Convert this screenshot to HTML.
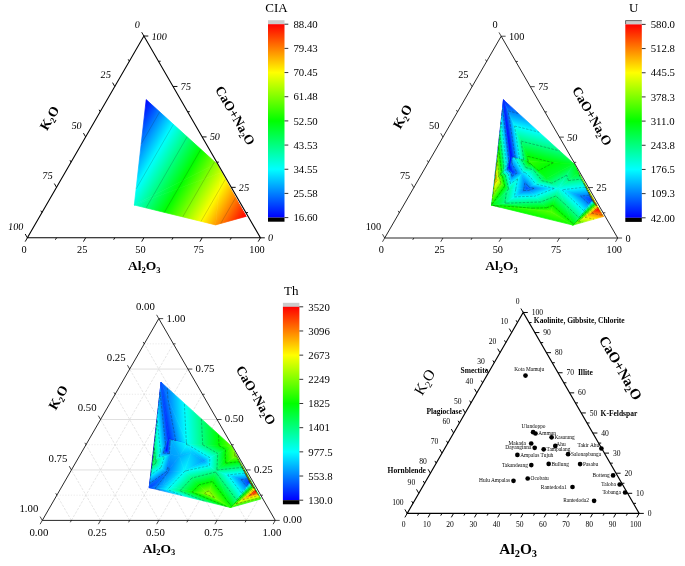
<!DOCTYPE html><html><head><meta charset="utf-8"><style>html,body{margin:0;padding:0;background:#fff}svg{display:block;will-change:transform}</style></head><body>
<svg width="685" height="566" viewBox="0 0 685 566">
<rect width="685" height="566" fill="#fff"/>
<defs><linearGradient id="rb"><stop offset="0" stop-color="rgb(0,0,255)"/><stop offset="0.25" stop-color="rgb(0,255,255)"/><stop offset="0.5" stop-color="rgb(0,255,0)"/><stop offset="0.75" stop-color="rgb(255,255,0)"/><stop offset="1" stop-color="rgb(255,0,0)"/></linearGradient><linearGradient id="cbv" x1="0" y1="1" x2="0" y2="0" href="#rb"/></defs>
<g>
<defs><linearGradient id="g1" gradientUnits="userSpaceOnUse" x1="145.95" y1="99.46" x2="271.42" y2="171.90" href="#rb"/><linearGradient id="g2" gradientUnits="userSpaceOnUse" x1="132.90" y1="122.05" x2="258.37" y2="194.49" href="#rb"/><linearGradient id="g3" gradientUnits="userSpaceOnUse" x1="109.04" y1="163.38" x2="234.51" y2="235.82" href="#rb"/><linearGradient id="g4" gradientUnits="userSpaceOnUse" x1="135.84" y1="116.97" x2="261.31" y2="189.41" href="#rb"/><linearGradient id="g5" gradientUnits="userSpaceOnUse" x1="132.90" y1="122.05" x2="258.37" y2="194.49" href="#rb"/></defs>
<polygon points="146.20,99.60 216.60,163.60 134.30,205.00" fill="url(#g1)" stroke="url(#g1)" stroke-width="0.7" stroke-linejoin="round"/><polygon points="220.80,172.80 216.60,163.60 246.00,216.40" fill="url(#g2)" stroke="url(#g2)" stroke-width="0.7" stroke-linejoin="round"/><polygon points="215.60,224.90 220.80,172.80 246.00,216.40" fill="url(#g3)" stroke="url(#g3)" stroke-width="0.7" stroke-linejoin="round"/><polygon points="216.60,163.60 220.80,172.80 134.30,205.00" fill="url(#g4)" stroke="url(#g4)" stroke-width="0.7" stroke-linejoin="round"/><polygon points="220.80,172.80 215.60,224.90 134.30,205.00" fill="url(#g5)" stroke="url(#g5)" stroke-width="0.7" stroke-linejoin="round"/>
<path d="M159.70 111.87L141.20 143.91M173.41 124.34L136.11 188.93M187.12 136.80L153.26 195.46M200.84 149.27L182.73 180.64M214.55 161.74L212.20 165.81M225.33 179.28L224.94 179.96M235.60 197.72L235.40 198.06M219.07 190.13L224.94 179.96M235.40 198.06L220.74 223.46M151.43 198.62L153.26 195.46M178.07 188.71L182.73 180.64M204.71 178.79L212.20 165.81M146.08 207.88L151.43 198.62M164.41 212.37L178.07 188.71M182.73 216.85L204.71 178.79M219.07 190.13L201.05 221.34" fill="none" stroke="#1a1a1a" stroke-opacity="0.55" stroke-width="0.35"/>
<path d="M27.40 237.80L143.90 36.02L260.40 237.80Z" fill="none" stroke="#000" stroke-width="1.10" stroke-linejoin="miter"/><path d="M143.90 36.02l-2.20 -3.81M260.40 237.80l4.40 0M27.40 237.80l-2.20 3.81M129.34 61.24l-1.10 -1.91M245.84 212.58l2.20 0M56.52 237.80l-1.10 1.91M114.78 86.46l-2.20 -3.81M231.27 187.35l4.40 0M85.65 237.80l-2.20 3.81M100.21 111.69l-1.10 -1.91M216.71 162.13l2.20 0M114.78 237.80l-1.10 1.91M85.65 136.91l-2.20 -3.81M202.15 136.91l4.40 0M143.90 237.80l-2.20 3.81M71.09 162.13l-1.10 -1.91M187.59 111.69l2.20 0M173.03 237.80l-1.10 1.91M56.53 187.35l-2.20 -3.81M173.03 86.46l4.40 0M202.15 237.80l-2.20 3.81M41.96 212.58l-1.10 -1.91M158.46 61.24l2.20 0M231.28 237.80l-1.10 1.91M27.40 237.80l-2.20 -3.81M143.90 36.02l4.40 0M260.40 237.80l-2.20 3.81" fill="none" stroke="#000" stroke-width="0.94"/>
<text x="139.70" y="27.82" font-family="Liberation Serif, serif" font-size="10.3" text-anchor="end" transform="translate(143.90 28.02) skewX(-6) translate(-143.90 -28.02)">0</text>
<text x="268.10" y="241.30" font-family="Liberation Serif, serif" font-size="10.3" text-anchor="start" transform="translate(260.40 237.80) skewX(-6) translate(-260.40 -237.80)">0</text>
<text x="24.00" y="252.90" font-family="Liberation Serif, serif" font-size="10.3" text-anchor="middle">0</text>
<text x="110.58" y="78.26" font-family="Liberation Serif, serif" font-size="10.3" text-anchor="end" transform="translate(114.78 78.46) skewX(-6) translate(-114.78 -78.46)">25</text>
<text x="238.97" y="190.85" font-family="Liberation Serif, serif" font-size="10.3" text-anchor="start" transform="translate(231.27 187.35) skewX(-6) translate(-231.27 -187.35)">25</text>
<text x="82.25" y="252.90" font-family="Liberation Serif, serif" font-size="10.3" text-anchor="middle">25</text>
<text x="81.45" y="128.71" font-family="Liberation Serif, serif" font-size="10.3" text-anchor="end" transform="translate(85.65 128.91) skewX(-6) translate(-85.65 -128.91)">50</text>
<text x="209.85" y="140.41" font-family="Liberation Serif, serif" font-size="10.3" text-anchor="start" transform="translate(202.15 136.91) skewX(-6) translate(-202.15 -136.91)">50</text>
<text x="140.50" y="252.90" font-family="Liberation Serif, serif" font-size="10.3" text-anchor="middle">50</text>
<text x="52.33" y="179.15" font-family="Liberation Serif, serif" font-size="10.3" text-anchor="end" transform="translate(56.53 179.35) skewX(-6) translate(-56.53 -179.35)">75</text>
<text x="180.72" y="89.96" font-family="Liberation Serif, serif" font-size="10.3" text-anchor="start" transform="translate(173.03 86.46) skewX(-6) translate(-173.03 -86.46)">75</text>
<text x="198.75" y="252.90" font-family="Liberation Serif, serif" font-size="10.3" text-anchor="middle">75</text>
<text x="23.20" y="229.60" font-family="Liberation Serif, serif" font-size="10.3" text-anchor="end" transform="translate(27.40 229.80) skewX(-6) translate(-27.40 -229.80)">100</text>
<text x="151.60" y="39.52" font-family="Liberation Serif, serif" font-size="10.3" text-anchor="start" transform="translate(143.90 36.02) skewX(-6) translate(-143.90 -36.02)">100</text>
<text x="257.00" y="252.90" font-family="Liberation Serif, serif" font-size="10.3" text-anchor="middle">100</text>
<text x="49.50" y="122.60" font-family="Liberation Serif, serif" font-size="13.5" font-weight="bold" text-anchor="middle" transform="rotate(-60 49.50 118.20)">K<tspan dy="2.6" font-size="8.5">2</tspan><tspan dy="-2.6" font-size="0.1"> </tspan>O</text>
<text x="235.10" y="120.10" font-family="Liberation Serif, serif" font-size="13.5" font-weight="bold" text-anchor="middle" transform="rotate(60 235.10 115.70)">CaO+Na<tspan dy="2.6" font-size="8.5">2</tspan><tspan dy="-2.6" font-size="0.1"> </tspan>O</text>
<text x="144.20" y="270.00" font-family="Liberation Serif, serif" font-size="13.5" font-weight="bold" text-anchor="middle">Al<tspan dy="2.6" font-size="8.5">2</tspan><tspan dy="-2.6" font-size="0.1"> </tspan>O<tspan dy="2.6" font-size="8.5">3</tspan><tspan dy="-2.6" font-size="0.1"> </tspan></text>
<rect x="268.00" y="20.20" width="16.50" height="4.20" fill="#cbcbcb"/>
<rect x="268.00" y="24.20" width="16.50" height="193.40" fill="url(#cbv)"/>
<rect x="268.00" y="217.60" width="16.50" height="4.10" fill="#000"/>
<text x="293.40" y="27.90" font-family="Liberation Serif, serif" font-size="10.8">88.40</text>
<text x="293.40" y="52.08" font-family="Liberation Serif, serif" font-size="10.8">79.43</text>
<text x="293.40" y="76.25" font-family="Liberation Serif, serif" font-size="10.8">70.45</text>
<text x="293.40" y="100.43" font-family="Liberation Serif, serif" font-size="10.8">61.48</text>
<text x="293.40" y="124.60" font-family="Liberation Serif, serif" font-size="10.8">52.50</text>
<text x="293.40" y="148.77" font-family="Liberation Serif, serif" font-size="10.8">43.53</text>
<text x="293.40" y="172.95" font-family="Liberation Serif, serif" font-size="10.8">34.55</text>
<text x="293.40" y="197.12" font-family="Liberation Serif, serif" font-size="10.8">25.58</text>
<text x="293.40" y="221.30" font-family="Liberation Serif, serif" font-size="10.8">16.60</text>
<path d="M284.50 24.20h3.8M284.50 48.38h3.8M284.50 72.55h3.8M284.50 96.73h3.8M284.50 120.90h3.8M284.50 145.07h3.8M284.50 169.25h3.8M284.50 193.42h3.8M284.50 217.60h3.8" stroke="#000" stroke-width="0.8" fill="none"/>
<text x="276.45" y="12.10" font-family="Liberation Serif, serif" font-size="13" text-anchor="middle">CIA</text>
</g>
<g>
<defs><linearGradient id="g6" gradientUnits="userSpaceOnUse" x1="503.43" y1="99.79" x2="505.45" y2="100.04" href="#rb"/><linearGradient id="g7" gradientUnits="userSpaceOnUse" x1="511.23" y1="156.38" x2="488.42" y2="159.19" href="#rb"/><linearGradient id="g8" gradientUnits="userSpaceOnUse" x1="599.24" y1="292.17" x2="471.55" y2="52.42" href="#rb"/><linearGradient id="g9" gradientUnits="userSpaceOnUse" x1="512.10" y1="164.25" x2="544.42" y2="159.38" href="#rb"/><linearGradient id="g10" gradientUnits="userSpaceOnUse" x1="585.76" y1="117.08" x2="560.03" y2="218.43" href="#rb"/><linearGradient id="g11" gradientUnits="userSpaceOnUse" x1="506.36" y1="193.62" x2="504.57" y2="218.84" href="#rb"/><linearGradient id="g12" gradientUnits="userSpaceOnUse" x1="505.05" y1="185.27" x2="506.81" y2="233.18" href="#rb"/><linearGradient id="g13" gradientUnits="userSpaceOnUse" x1="528.56" y1="207.01" x2="466.44" y2="195.84" href="#rb"/><linearGradient id="g14" gradientUnits="userSpaceOnUse" x1="520.55" y1="196.56" x2="489.30" y2="174.99" href="#rb"/><linearGradient id="g15" gradientUnits="userSpaceOnUse" x1="545.88" y1="193.94" x2="441.20" y2="181.24" href="#rb"/><linearGradient id="g16" gradientUnits="userSpaceOnUse" x1="533.58" y1="274.60" x2="563.01" y2="166.14" href="#rb"/><linearGradient id="g17" gradientUnits="userSpaceOnUse" x1="571.91" y1="175.73" x2="585.07" y2="169.93" href="#rb"/><linearGradient id="g18" gradientUnits="userSpaceOnUse" x1="523.22" y1="191.03" x2="568.00" y2="156.91" href="#rb"/><linearGradient id="g19" gradientUnits="userSpaceOnUse" x1="527.83" y1="176.65" x2="542.97" y2="159.13" href="#rb"/><linearGradient id="g20" gradientUnits="userSpaceOnUse" x1="600.83" y1="207.33" x2="598.10" y2="209.00" href="#rb"/><linearGradient id="g21" gradientUnits="userSpaceOnUse" x1="577.43" y1="173.36" x2="578.86" y2="172.60" href="#rb"/><linearGradient id="g22" gradientUnits="userSpaceOnUse" x1="568.45" y1="246.91" x2="577.07" y2="204.70" href="#rb"/><linearGradient id="g23" gradientUnits="userSpaceOnUse" x1="589.94" y1="200.43" x2="598.10" y2="209.00" href="#rb"/><linearGradient id="g24" gradientUnits="userSpaceOnUse" x1="560.41" y1="206.90" x2="552.73" y2="140.02" href="#rb"/><linearGradient id="g25" gradientUnits="userSpaceOnUse" x1="571.60" y1="173.69" x2="523.26" y2="227.54" href="#rb"/><linearGradient id="g26" gradientUnits="userSpaceOnUse" x1="596.94" y1="200.21" x2="550.42" y2="248.38" href="#rb"/><linearGradient id="g27" gradientUnits="userSpaceOnUse" x1="555.90" y1="198.41" x2="564.63" y2="162.39" href="#rb"/><linearGradient id="g28" gradientUnits="userSpaceOnUse" x1="525.01" y1="183.80" x2="547.37" y2="240.07" href="#rb"/><linearGradient id="g29" gradientUnits="userSpaceOnUse" x1="590.77" y1="195.47" x2="554.18" y2="126.77" href="#rb"/><linearGradient id="g30" gradientUnits="userSpaceOnUse" x1="523.97" y1="190.74" x2="639.08" y2="153.01" href="#rb"/><linearGradient id="g31" gradientUnits="userSpaceOnUse" x1="530.94" y1="193.54" x2="469.00" y2="181.98" href="#rb"/><linearGradient id="g32" gradientUnits="userSpaceOnUse" x1="513.42" y1="182.75" x2="555.15" y2="137.16" href="#rb"/><linearGradient id="g33" gradientUnits="userSpaceOnUse" x1="528.97" y1="184.31" x2="541.01" y2="145.98" href="#rb"/><linearGradient id="g34" gradientUnits="userSpaceOnUse" x1="530.06" y1="158.95" x2="529.40" y2="163.82" href="#rb"/><linearGradient id="g35" gradientUnits="userSpaceOnUse" x1="515.31" y1="177.30" x2="547.66" y2="158.88" href="#rb"/><linearGradient id="g36" gradientUnits="userSpaceOnUse" x1="513.94" y1="171.81" x2="490.06" y2="177.43" href="#rb"/><linearGradient id="g37" gradientUnits="userSpaceOnUse" x1="511.48" y1="170.27" x2="534.96" y2="205.50" href="#rb"/><linearGradient id="g38" gradientUnits="userSpaceOnUse" x1="510.55" y1="173.35" x2="551.79" y2="149.27" href="#rb"/><linearGradient id="g39" gradientUnits="userSpaceOnUse" x1="509.28" y1="167.81" x2="494.79" y2="165.40" href="#rb"/><linearGradient id="g40" gradientUnits="userSpaceOnUse" x1="509.28" y1="167.71" x2="495.05" y2="184.54" href="#rb"/><linearGradient id="g41" gradientUnits="userSpaceOnUse" x1="510.87" y1="157.35" x2="523.31" y2="159.42" href="#rb"/><linearGradient id="g42" gradientUnits="userSpaceOnUse" x1="510.94" y1="172.79" x2="544.70" y2="159.53" href="#rb"/></defs>
<polygon points="503.50,99.80 495.40,179.20 491.60,205.20" fill="url(#g6)" stroke="url(#g6)" stroke-width="0.7" stroke-linejoin="round"/><polygon points="511.10,156.40 495.40,179.20 503.50,99.80" fill="url(#g7)" stroke="url(#g7)" stroke-width="0.7" stroke-linejoin="round"/><polygon points="529.70,161.60 573.90,163.80 546.30,178.50" fill="url(#g8)" stroke="url(#g8)" stroke-width="0.7" stroke-linejoin="round"/><polygon points="529.70,161.60 511.10,156.40 503.50,99.80" fill="url(#g9)" stroke="url(#g9)" stroke-width="0.7" stroke-linejoin="round"/><polygon points="573.90,163.80 529.70,161.60 503.50,99.80" fill="url(#g10)" stroke="url(#g10)" stroke-width="0.7" stroke-linejoin="round"/><polygon points="505.70,202.90 550.70,211.50 491.60,205.20" fill="url(#g11)" stroke="url(#g11)" stroke-width="0.7" stroke-linejoin="round"/><polygon points="505.70,202.90 526.80,188.30 550.70,211.50" fill="url(#g12)" stroke="url(#g12)" stroke-width="0.7" stroke-linejoin="round"/><polygon points="505.70,202.90 509.30,189.50 526.80,188.30" fill="url(#g13)" stroke="url(#g13)" stroke-width="0.7" stroke-linejoin="round"/><polygon points="495.40,179.20 509.30,189.50 491.60,205.20" fill="url(#g14)" stroke="url(#g14)" stroke-width="0.7" stroke-linejoin="round"/><polygon points="509.30,189.50 505.70,202.90 491.60,205.20" fill="url(#g15)" stroke="url(#g15)" stroke-width="0.7" stroke-linejoin="round"/><polygon points="550.70,211.50 572.90,225.10 491.60,205.20" fill="url(#g16)" stroke="url(#g16)" stroke-width="0.7" stroke-linejoin="round"/><polygon points="578.10,173.00 573.90,163.80 603.30,216.60" fill="url(#g17)" stroke="url(#g17)" stroke-width="0.7" stroke-linejoin="round"/><polygon points="526.80,188.30 533.40,170.20 546.30,178.50" fill="url(#g18)" stroke="url(#g18)" stroke-width="0.7" stroke-linejoin="round"/><polygon points="533.40,170.20 529.70,161.60 546.30,178.50" fill="url(#g19)" stroke="url(#g19)" stroke-width="0.7" stroke-linejoin="round"/><polygon points="598.10,209.00 578.10,173.00 603.30,216.60" fill="url(#g20)" stroke="url(#g20)" stroke-width="0.7" stroke-linejoin="round"/><polygon points="578.10,173.00 598.10,209.00 591.50,199.80" fill="url(#g21)" stroke="url(#g21)" stroke-width="0.7" stroke-linejoin="round"/><polygon points="572.90,225.10 598.10,209.00 603.30,216.60" fill="url(#g22)" stroke="url(#g22)" stroke-width="0.7" stroke-linejoin="round"/><polygon points="598.10,209.00 572.90,225.10 591.50,199.80" fill="url(#g23)" stroke="url(#g23)" stroke-width="0.7" stroke-linejoin="round"/><polygon points="558.30,188.50 578.10,173.00 591.50,199.80" fill="url(#g24)" stroke="url(#g24)" stroke-width="0.7" stroke-linejoin="round"/><polygon points="558.30,188.50 572.90,225.10 550.70,211.50" fill="url(#g25)" stroke="url(#g25)" stroke-width="0.7" stroke-linejoin="round"/><polygon points="572.90,225.10 558.30,188.50 591.50,199.80" fill="url(#g26)" stroke="url(#g26)" stroke-width="0.7" stroke-linejoin="round"/><polygon points="558.30,188.50 526.80,188.30 546.30,178.50" fill="url(#g27)" stroke="url(#g27)" stroke-width="0.7" stroke-linejoin="round"/><polygon points="526.80,188.30 558.30,188.50 550.70,211.50" fill="url(#g28)" stroke="url(#g28)" stroke-width="0.7" stroke-linejoin="round"/><polygon points="573.90,163.80 558.30,188.50 546.30,178.50" fill="url(#g29)" stroke="url(#g29)" stroke-width="0.7" stroke-linejoin="round"/><polygon points="578.10,173.00 558.30,188.50 573.90,163.80" fill="url(#g30)" stroke="url(#g30)" stroke-width="0.7" stroke-linejoin="round"/><polygon points="509.30,189.50 521.80,173.60 526.80,188.30" fill="url(#g31)" stroke="url(#g31)" stroke-width="0.7" stroke-linejoin="round"/><polygon points="521.80,173.60 533.40,170.20 526.80,188.30" fill="url(#g32)" stroke="url(#g32)" stroke-width="0.7" stroke-linejoin="round"/><polygon points="533.40,170.20 521.80,173.60 529.70,161.60" fill="url(#g33)" stroke="url(#g33)" stroke-width="0.7" stroke-linejoin="round"/><polygon points="529.70,161.60 513.60,157.80 511.10,156.40" fill="url(#g34)" stroke="url(#g34)" stroke-width="0.7" stroke-linejoin="round"/><polygon points="521.80,173.60 513.60,157.80 529.70,161.60" fill="url(#g35)" stroke="url(#g35)" stroke-width="0.7" stroke-linejoin="round"/><polygon points="512.70,172.10 509.30,189.50 495.40,179.20" fill="url(#g36)" stroke="url(#g36)" stroke-width="0.7" stroke-linejoin="round"/><polygon points="512.70,172.10 521.80,173.60 509.30,189.50" fill="url(#g37)" stroke="url(#g37)" stroke-width="0.7" stroke-linejoin="round"/><polygon points="512.70,172.10 513.60,157.80 521.80,173.60" fill="url(#g38)" stroke="url(#g38)" stroke-width="0.7" stroke-linejoin="round"/><polygon points="509.20,167.80 495.40,179.20 511.10,156.40" fill="url(#g39)" stroke="url(#g39)" stroke-width="0.7" stroke-linejoin="round"/><polygon points="509.20,167.80 512.70,172.10 495.40,179.20" fill="url(#g40)" stroke="url(#g40)" stroke-width="0.7" stroke-linejoin="round"/><polygon points="513.60,157.80 509.20,167.80 511.10,156.40" fill="url(#g41)" stroke="url(#g41)" stroke-width="0.7" stroke-linejoin="round"/><polygon points="512.70,172.10 509.20,167.80 513.60,157.80" fill="url(#g42)" stroke="url(#g42)" stroke-width="0.7" stroke-linejoin="round"/>
<path d="M502.54 109.22L501.16 120.56M501.23 122.09L497.95 148.92M499.91 134.96L494.75 177.27M498.60 147.82L491.62 205.04M497.29 160.69L493.17 194.45M495.98 173.56L494.72 183.85M508.75 159.81L502.54 109.22M506.30 163.37L501.23 122.09M503.84 166.94L499.91 134.96M501.39 170.50L498.60 147.82M498.93 174.07L497.29 160.69M496.48 177.64L495.98 173.56M553.27 162.77L538.55 170.61M515.22 157.55L508.19 110.87M519.53 158.76L514.60 125.98M523.85 159.96L521.01 141.09M528.16 161.17L527.41 156.21M508.19 110.87L518.57 113.50M514.60 125.98L539.16 132.22M521.01 141.09L559.74 150.93M553.27 162.77L527.41 156.21M507.17 203.18L504.94 203.02M533.48 208.21L492.91 205.34M523.50 190.58L528.95 190.38M514.34 196.92L534.90 196.16M540.85 201.94L507.17 203.18M546.81 207.72L533.48 208.21M523.87 188.50L523.50 190.58M515.76 189.06L514.34 196.92M508.52 188.92L506.26 192.20M504.70 186.09L491.62 205.04M500.89 183.27L493.17 194.45M497.07 180.44L494.72 183.85M504.94 203.02L506.26 192.20M499.73 207.19L492.91 205.34M576.84 169.08L580.07 176.40M586.25 185.99L588.33 190.71M595.67 202.90L596.60 205.01M527.83 185.47L529.11 187.14M530.70 177.62L535.50 183.93M534.37 170.82L541.90 180.71M533.25 169.86L534.37 170.82M530.63 163.77L538.55 170.61M579.22 175.02L580.07 176.40M583.94 183.52L588.33 190.71M588.66 192.01L596.60 205.01M593.38 200.51L602.47 215.39M592.01 200.51L589.16 195.12M592.88 201.72L585.16 187.11M593.75 202.93L581.15 179.10M579.22 175.02L594.62 204.15M583.94 183.52L595.49 205.36M588.66 192.01L596.36 206.57M593.38 200.51L597.23 207.79M578.55 221.49L582.74 222.35M585.06 217.33L594.10 219.17M591.58 213.16L602.47 215.39M588.58 203.77L592.01 200.51M583.58 210.58L592.88 201.72M578.57 217.38L593.75 202.93M573.57 224.19L594.62 204.15M578.55 221.49L595.49 205.36M585.06 217.33L596.36 206.57M591.58 213.16L597.23 207.79M589.16 195.12L580.64 196.10M585.16 187.11L562.03 189.77M568.44 180.57L581.15 179.10M564.34 203.63L555.82 195.99M571.89 222.57L552.73 205.37M580.64 196.10L588.58 203.77M562.03 189.77L583.58 210.58M564.34 203.63L578.57 217.38M571.89 222.57L573.57 224.19M534.07 188.35L529.11 187.14M554.25 188.47L535.50 183.93M541.90 180.71L551.85 183.12M534.07 188.35L528.95 190.38M554.25 188.47L534.90 196.16M555.82 195.99L540.85 201.94M552.73 205.37L546.81 207.72M566.68 175.22L551.85 183.12M568.44 180.57L566.68 175.22M524.93 182.82L523.87 188.50M517.66 178.87L515.76 189.06M527.83 185.47L524.93 182.82M525.22 172.60L530.70 177.62M525.22 172.60L522.93 171.88M525.80 167.52L533.25 169.86M528.68 163.16L530.63 163.77M512.50 157.18L515.22 157.55M515.12 158.16L519.53 158.76M521.31 159.62L523.85 159.96M527.49 161.08L528.16 161.17M515.12 158.16L522.93 171.88M521.31 159.62L525.80 167.52M527.49 161.08L528.68 163.16M511.87 176.37L511.02 172.79M510.44 183.68L508.15 173.97M508.52 188.92L505.28 175.15M504.70 186.09L502.41 176.32M500.89 183.27L499.53 177.50M497.07 180.44L496.66 178.68M517.16 172.84L511.87 176.37M517.66 178.87L510.44 183.68M513.09 165.86L517.16 172.84M507.14 169.50L508.75 159.81M504.98 171.29L506.30 163.37M502.82 173.07L503.84 166.94M500.66 174.85L501.39 170.50M498.50 176.63L498.93 174.07M496.35 178.42L496.48 177.64M511.02 172.79L507.14 169.50M508.15 173.97L504.98 171.29M505.28 175.15L502.82 173.07M502.41 176.32L500.66 174.85M499.53 177.50L498.50 176.63M496.66 178.68L496.35 178.42M511.66 162.21L512.50 157.18M511.66 162.21L513.09 165.86" fill="none" stroke="#1a1a1a" stroke-opacity="0.75" stroke-width="0.4" stroke-dasharray="2.6 1.3"/>
<path d="M384.70 238.00L501.20 36.22L617.70 238.00Z" fill="none" stroke="#000" stroke-width="0.85" stroke-linejoin="miter"/><path d="M501.20 36.22l-2.20 -3.81M617.70 238.00l4.40 0M384.70 238.00l-2.20 3.81M486.64 61.44l-1.10 -1.91M603.14 212.78l2.20 0M413.82 238.00l-1.10 1.91M472.07 86.66l-2.20 -3.81M588.58 187.55l4.40 0M442.95 238.00l-2.20 3.81M457.51 111.89l-1.10 -1.91M574.01 162.33l2.20 0M472.07 238.00l-1.10 1.91M442.95 137.11l-2.20 -3.81M559.45 137.11l4.40 0M501.20 238.00l-2.20 3.81M428.39 162.33l-1.10 -1.91M544.89 111.89l2.20 0M530.33 238.00l-1.10 1.91M413.82 187.55l-2.20 -3.81M530.33 86.66l4.40 0M559.45 238.00l-2.20 3.81M399.26 212.78l-1.10 -1.91M515.76 61.44l2.20 0M588.58 238.00l-1.10 1.91M384.70 238.00l-2.20 -3.81M501.20 36.22l4.40 0M617.70 238.00l-2.20 3.81" fill="none" stroke="#000" stroke-width="0.72"/>
<text x="497.60" y="28.02" font-family="Liberation Serif, serif" font-size="10.3" text-anchor="end" >0</text>
<text x="625.40" y="241.50" font-family="Liberation Serif, serif" font-size="10.3" text-anchor="start" >0</text>
<text x="381.30" y="253.10" font-family="Liberation Serif, serif" font-size="10.3" text-anchor="middle">0</text>
<text x="468.47" y="78.46" font-family="Liberation Serif, serif" font-size="10.3" text-anchor="end" >25</text>
<text x="596.28" y="191.05" font-family="Liberation Serif, serif" font-size="10.3" text-anchor="start" >25</text>
<text x="439.55" y="253.10" font-family="Liberation Serif, serif" font-size="10.3" text-anchor="middle">25</text>
<text x="439.35" y="128.91" font-family="Liberation Serif, serif" font-size="10.3" text-anchor="end" >50</text>
<text x="567.15" y="140.61" font-family="Liberation Serif, serif" font-size="10.3" text-anchor="start" transform="translate(559.45 137.11) skewX(-6) translate(-559.45 -137.11)">50</text>
<text x="497.80" y="253.10" font-family="Liberation Serif, serif" font-size="10.3" text-anchor="middle">50</text>
<text x="410.22" y="179.35" font-family="Liberation Serif, serif" font-size="10.3" text-anchor="end" >75</text>
<text x="538.03" y="90.16" font-family="Liberation Serif, serif" font-size="10.3" text-anchor="start" transform="translate(530.33 86.66) skewX(-6) translate(-530.33 -86.66)">75</text>
<text x="556.05" y="253.10" font-family="Liberation Serif, serif" font-size="10.3" text-anchor="middle">75</text>
<text x="381.10" y="229.80" font-family="Liberation Serif, serif" font-size="10.3" text-anchor="end" >100</text>
<text x="508.90" y="39.72" font-family="Liberation Serif, serif" font-size="10.3" text-anchor="start" >100</text>
<text x="614.30" y="253.10" font-family="Liberation Serif, serif" font-size="10.3" text-anchor="middle">100</text>
<text x="402.70" y="121.00" font-family="Liberation Serif, serif" font-size="13.5" font-weight="bold" text-anchor="middle" transform="rotate(-60 402.70 116.60)">K<tspan dy="2.6" font-size="8.5">2</tspan><tspan dy="-2.6" font-size="0.1"> </tspan>O</text>
<text x="592.00" y="120.50" font-family="Liberation Serif, serif" font-size="13.5" font-weight="bold" text-anchor="middle" transform="rotate(60 592.00 116.10)">CaO+Na<tspan dy="2.6" font-size="8.5">2</tspan><tspan dy="-2.6" font-size="0.1"> </tspan>O</text>
<text x="501.50" y="270.20" font-family="Liberation Serif, serif" font-size="13.5" font-weight="bold" text-anchor="middle">Al<tspan dy="2.6" font-size="8.5">2</tspan><tspan dy="-2.6" font-size="0.1"> </tspan>O<tspan dy="2.6" font-size="8.5">3</tspan><tspan dy="-2.6" font-size="0.1"> </tspan></text>
<rect x="625.30" y="20.40" width="16.50" height="4.20" fill="#cbcbcb"/>
<path d="M625.60 24.20v-3.6h16.20" fill="none" stroke="#333" stroke-width="0.7"/>
<rect x="625.30" y="24.40" width="16.50" height="193.40" fill="url(#cbv)"/>
<rect x="625.30" y="217.80" width="16.50" height="4.10" fill="#000"/>
<text x="650.70" y="28.10" font-family="Liberation Serif, serif" font-size="10.8">580.0</text>
<text x="650.70" y="52.27" font-family="Liberation Serif, serif" font-size="10.8">512.8</text>
<text x="650.70" y="76.45" font-family="Liberation Serif, serif" font-size="10.8">445.5</text>
<text x="650.70" y="100.62" font-family="Liberation Serif, serif" font-size="10.8">378.3</text>
<text x="650.70" y="124.80" font-family="Liberation Serif, serif" font-size="10.8">311.0</text>
<text x="650.70" y="148.97" font-family="Liberation Serif, serif" font-size="10.8">243.8</text>
<text x="650.70" y="173.15" font-family="Liberation Serif, serif" font-size="10.8">176.5</text>
<text x="650.70" y="197.32" font-family="Liberation Serif, serif" font-size="10.8">109.3</text>
<text x="650.70" y="221.50" font-family="Liberation Serif, serif" font-size="10.8">42.00</text>
<path d="M641.80 24.40h3.8M641.80 48.57h3.8M641.80 72.75h3.8M641.80 96.92h3.8M641.80 121.10h3.8M641.80 145.27h3.8M641.80 169.45h3.8M641.80 193.62h3.8M641.80 217.80h3.8" stroke="#000" stroke-width="0.8" fill="none"/>
<text x="633.75" y="12.30" font-family="Liberation Serif, serif" font-size="13" text-anchor="middle">U</text>
</g>
<g>
<path d="M71.42 469.95L246.18 469.95M100.55 419.51L217.05 419.51M129.68 369.06L187.93 369.06" fill="none" stroke="#d2d2d2" stroke-width="0.7"/>
<path d="M56.86 495.18L260.74 495.18M85.99 444.73L231.61 444.73M115.11 394.29L202.49 394.29M144.24 343.84L173.36 343.84" fill="none" stroke="#d8d8d8" stroke-width="0.55" stroke-dasharray="1.2 1.6"/>
<path d="M71.42 520.40L173.36 343.84M71.42 520.40L56.86 495.18M100.55 520.40L187.93 369.06M100.55 520.40L71.42 469.95M129.68 520.40L202.49 394.29M129.68 520.40L85.99 444.73M158.80 520.40L217.05 419.51M158.80 520.40L100.55 419.51M187.93 520.40L231.61 444.73M187.93 520.40L115.11 394.29M217.05 520.40L246.18 469.95M217.05 520.40L129.68 369.06M246.18 520.40L260.74 495.18M246.18 520.40L144.24 343.84" fill="none" stroke="#cdcdcd" stroke-width="0.5" stroke-dasharray="2.6 1.3"/>
<defs><linearGradient id="g43" gradientUnits="userSpaceOnUse" x1="160.91" y1="382.18" x2="163.25" y2="382.44" href="#rb"/><linearGradient id="g44" gradientUnits="userSpaceOnUse" x1="170.73" y1="438.59" x2="124.76" y2="443.42" href="#rb"/><linearGradient id="g45" gradientUnits="userSpaceOnUse" x1="179.51" y1="457.33" x2="209.87" y2="405.39" href="#rb"/><linearGradient id="g46" gradientUnits="userSpaceOnUse" x1="166.71" y1="447.83" x2="246.94" y2="432.89" href="#rb"/><linearGradient id="g47" gradientUnits="userSpaceOnUse" x1="154.27" y1="450.20" x2="283.88" y2="443.49" href="#rb"/><linearGradient id="g48" gradientUnits="userSpaceOnUse" x1="153.49" y1="475.83" x2="209.85" y2="530.22" href="#rb"/><linearGradient id="g49" gradientUnits="userSpaceOnUse" x1="153.29" y1="475.88" x2="210.78" y2="530.00" href="#rb"/><linearGradient id="g50" gradientUnits="userSpaceOnUse" x1="150.05" y1="474.15" x2="226.19" y2="538.20" href="#rb"/><linearGradient id="g51" gradientUnits="userSpaceOnUse" x1="165.93" y1="479.86" x2="136.12" y2="437.75" href="#rb"/><linearGradient id="g52" gradientUnits="userSpaceOnUse" x1="158.71" y1="465.62" x2="229.92" y2="520.20" href="#rb"/><linearGradient id="g53" gradientUnits="userSpaceOnUse" x1="201.07" y1="511.23" x2="211.96" y2="485.12" href="#rb"/><linearGradient id="g54" gradientUnits="userSpaceOnUse" x1="244.49" y1="450.64" x2="230.76" y2="458.08" href="#rb"/><linearGradient id="g55" gradientUnits="userSpaceOnUse" x1="240.88" y1="457.22" x2="7.40" y2="512.94" href="#rb"/><linearGradient id="g56" gradientUnits="userSpaceOnUse" x1="186.31" y1="478.29" x2="210.05" y2="348.32" href="#rb"/><linearGradient id="g57" gradientUnits="userSpaceOnUse" x1="257.11" y1="490.59" x2="255.69" y2="491.40" href="#rb"/><linearGradient id="g58" gradientUnits="userSpaceOnUse" x1="234.83" y1="455.87" x2="236.19" y2="455.14" href="#rb"/><linearGradient id="g59" gradientUnits="userSpaceOnUse" x1="233.07" y1="517.39" x2="228.15" y2="498.44" href="#rb"/><linearGradient id="g60" gradientUnits="userSpaceOnUse" x1="247.58" y1="482.81" x2="255.75" y2="491.45" href="#rb"/><linearGradient id="g61" gradientUnits="userSpaceOnUse" x1="217.70" y1="487.92" x2="212.69" y2="440.62" href="#rb"/><linearGradient id="g62" gradientUnits="userSpaceOnUse" x1="234.72" y1="456.46" x2="182.42" y2="496.59" href="#rb"/><linearGradient id="g63" gradientUnits="userSpaceOnUse" x1="257.08" y1="487.50" x2="206.17" y2="525.81" href="#rb"/><linearGradient id="g64" gradientUnits="userSpaceOnUse" x1="211.19" y1="449.85" x2="224.28" y2="508.35" href="#rb"/><linearGradient id="g65" gradientUnits="userSpaceOnUse" x1="180.40" y1="454.94" x2="196.92" y2="520.11" href="#rb"/><linearGradient id="g66" gradientUnits="userSpaceOnUse" x1="195.46" y1="444.32" x2="255.94" y2="447.48" href="#rb"/><linearGradient id="g67" gradientUnits="userSpaceOnUse" x1="187.62" y1="459.83" x2="262.73" y2="452.91" href="#rb"/><linearGradient id="g68" gradientUnits="userSpaceOnUse" x1="152.97" y1="467.22" x2="274.08" y2="507.92" href="#rb"/><linearGradient id="g69" gradientUnits="userSpaceOnUse" x1="157.14" y1="432.98" x2="289.50" y2="569.90" href="#rb"/><linearGradient id="g70" gradientUnits="userSpaceOnUse" x1="189.14" y1="480.46" x2="198.57" y2="339.51" href="#rb"/><linearGradient id="g71" gradientUnits="userSpaceOnUse" x1="187.66" y1="442.18" x2="186.27" y2="449.26" href="#rb"/><linearGradient id="g72" gradientUnits="userSpaceOnUse" x1="158.25" y1="466.98" x2="284.02" y2="401.70" href="#rb"/><linearGradient id="g73" gradientUnits="userSpaceOnUse" x1="177.81" y1="456.86" x2="128.85" y2="441.49" href="#rb"/><linearGradient id="g74" gradientUnits="userSpaceOnUse" x1="128.40" y1="494.35" x2="401.54" y2="234.55" href="#rb"/><linearGradient id="g75" gradientUnits="userSpaceOnUse" x1="102.12" y1="489.88" x2="546.60" y2="259.21" href="#rb"/><linearGradient id="g76" gradientUnits="userSpaceOnUse" x1="167.34" y1="450.32" x2="141.37" y2="444.53" href="#rb"/><linearGradient id="g77" gradientUnits="userSpaceOnUse" x1="166.85" y1="449.58" x2="164.44" y2="479.67" href="#rb"/><linearGradient id="g78" gradientUnits="userSpaceOnUse" x1="167.63" y1="439.76" x2="188.87" y2="442.36" href="#rb"/><linearGradient id="g79" gradientUnits="userSpaceOnUse" x1="166.09" y1="454.35" x2="193.54" y2="455.30" href="#rb"/></defs>
<polygon points="161.10,382.20 153.00,461.60 149.20,487.60" fill="url(#g43)" stroke="url(#g43)" stroke-width="0.7" stroke-linejoin="round"/><polygon points="168.70,438.80 153.00,461.60 161.10,382.20" fill="url(#g44)" stroke="url(#g44)" stroke-width="0.7" stroke-linejoin="round"/><polygon points="187.30,444.00 231.50,446.20 203.90,460.90" fill="url(#g45)" stroke="url(#g45)" stroke-width="0.7" stroke-linejoin="round"/><polygon points="187.30,444.00 168.70,438.80 161.10,382.20" fill="url(#g46)" stroke="url(#g46)" stroke-width="0.7" stroke-linejoin="round"/><polygon points="231.50,446.20 187.30,444.00 161.10,382.20" fill="url(#g47)" stroke="url(#g47)" stroke-width="0.7" stroke-linejoin="round"/><polygon points="163.30,485.30 208.30,493.90 149.20,487.60" fill="url(#g48)" stroke="url(#g48)" stroke-width="0.7" stroke-linejoin="round"/><polygon points="163.30,485.30 184.40,470.70 208.30,493.90" fill="url(#g49)" stroke="url(#g49)" stroke-width="0.7" stroke-linejoin="round"/><polygon points="163.30,485.30 166.90,471.90 184.40,470.70" fill="url(#g50)" stroke="url(#g50)" stroke-width="0.7" stroke-linejoin="round"/><polygon points="153.00,461.60 166.90,471.90 149.20,487.60" fill="url(#g51)" stroke="url(#g51)" stroke-width="0.7" stroke-linejoin="round"/><polygon points="166.90,471.90 163.30,485.30 149.20,487.60" fill="url(#g52)" stroke="url(#g52)" stroke-width="0.7" stroke-linejoin="round"/><polygon points="208.30,493.90 230.50,507.50 149.20,487.60" fill="url(#g53)" stroke="url(#g53)" stroke-width="0.7" stroke-linejoin="round"/><polygon points="235.70,455.40 231.50,446.20 260.90,499.00" fill="url(#g54)" stroke="url(#g54)" stroke-width="0.7" stroke-linejoin="round"/><polygon points="184.40,470.70 191.00,452.60 203.90,460.90" fill="url(#g55)" stroke="url(#g55)" stroke-width="0.7" stroke-linejoin="round"/><polygon points="191.00,452.60 187.30,444.00 203.90,460.90" fill="url(#g56)" stroke="url(#g56)" stroke-width="0.7" stroke-linejoin="round"/><polygon points="255.70,491.40 235.70,455.40 260.90,499.00" fill="url(#g57)" stroke="url(#g57)" stroke-width="0.7" stroke-linejoin="round"/><polygon points="235.70,455.40 255.70,491.40 249.10,482.20" fill="url(#g58)" stroke="url(#g58)" stroke-width="0.7" stroke-linejoin="round"/><polygon points="230.50,507.50 255.70,491.40 260.90,499.00" fill="url(#g59)" stroke="url(#g59)" stroke-width="0.7" stroke-linejoin="round"/><polygon points="255.70,491.40 230.50,507.50 249.10,482.20" fill="url(#g60)" stroke="url(#g60)" stroke-width="0.7" stroke-linejoin="round"/><polygon points="215.90,470.90 235.70,455.40 249.10,482.20" fill="url(#g61)" stroke="url(#g61)" stroke-width="0.7" stroke-linejoin="round"/><polygon points="215.90,470.90 230.50,507.50 208.30,493.90" fill="url(#g62)" stroke="url(#g62)" stroke-width="0.7" stroke-linejoin="round"/><polygon points="230.50,507.50 215.90,470.90 249.10,482.20" fill="url(#g63)" stroke="url(#g63)" stroke-width="0.7" stroke-linejoin="round"/><polygon points="215.90,470.90 184.40,470.70 203.90,460.90" fill="url(#g64)" stroke="url(#g64)" stroke-width="0.7" stroke-linejoin="round"/><polygon points="184.40,470.70 215.90,470.90 208.30,493.90" fill="url(#g65)" stroke="url(#g65)" stroke-width="0.7" stroke-linejoin="round"/><polygon points="231.50,446.20 215.90,470.90 203.90,460.90" fill="url(#g66)" stroke="url(#g66)" stroke-width="0.7" stroke-linejoin="round"/><polygon points="235.70,455.40 215.90,470.90 231.50,446.20" fill="url(#g67)" stroke="url(#g67)" stroke-width="0.7" stroke-linejoin="round"/><polygon points="166.90,471.90 179.40,456.00 184.40,470.70" fill="url(#g68)" stroke="url(#g68)" stroke-width="0.7" stroke-linejoin="round"/><polygon points="179.40,456.00 191.00,452.60 184.40,470.70" fill="url(#g69)" stroke="url(#g69)" stroke-width="0.7" stroke-linejoin="round"/><polygon points="191.00,452.60 179.40,456.00 187.30,444.00" fill="url(#g70)" stroke="url(#g70)" stroke-width="0.7" stroke-linejoin="round"/><polygon points="187.30,444.00 171.20,440.20 168.70,438.80" fill="url(#g71)" stroke="url(#g71)" stroke-width="0.7" stroke-linejoin="round"/><polygon points="179.40,456.00 171.20,440.20 187.30,444.00" fill="url(#g72)" stroke="url(#g72)" stroke-width="0.7" stroke-linejoin="round"/><polygon points="170.30,454.50 166.90,471.90 153.00,461.60" fill="url(#g73)" stroke="url(#g73)" stroke-width="0.7" stroke-linejoin="round"/><polygon points="170.30,454.50 179.40,456.00 166.90,471.90" fill="url(#g74)" stroke="url(#g74)" stroke-width="0.7" stroke-linejoin="round"/><polygon points="170.30,454.50 171.20,440.20 179.40,456.00" fill="url(#g75)" stroke="url(#g75)" stroke-width="0.7" stroke-linejoin="round"/><polygon points="166.80,450.20 153.00,461.60 168.70,438.80" fill="url(#g76)" stroke="url(#g76)" stroke-width="0.7" stroke-linejoin="round"/><polygon points="166.80,450.20 170.30,454.50 153.00,461.60" fill="url(#g77)" stroke="url(#g77)" stroke-width="0.7" stroke-linejoin="round"/><polygon points="171.20,440.20 166.80,450.20 168.70,438.80" fill="url(#g78)" stroke="url(#g78)" stroke-width="0.7" stroke-linejoin="round"/><polygon points="170.30,454.50 166.80,450.20 171.20,440.20" fill="url(#g79)" stroke="url(#g79)" stroke-width="0.7" stroke-linejoin="round"/>
<path d="M160.06 392.37L149.82 483.36M157.20 420.41L151.11 474.55M154.34 448.45L152.40 465.73M165.44 443.53L160.06 392.37M160.40 450.85L157.20 420.41M155.36 458.17L154.34 448.45M209.93 457.69L188.37 445.09M202.72 444.77L217.72 453.54M219.01 445.58L225.52 449.39M175.77 440.78L167.81 398.04M186.72 443.84L186.32 441.68M167.81 398.04L167.29 387.82M186.32 441.68L184.33 403.32M202.72 444.77L201.38 418.82M219.01 445.58L218.43 434.31M155.13 488.23L156.96 486.33M170.28 486.63L167.47 489.55M181.77 488.83L179.81 490.86M193.25 491.02L192.14 492.18M204.74 493.22L204.48 493.49M184.86 471.15L170.28 486.63M191.94 478.02L181.77 488.83M199.02 484.90L193.25 491.02M206.11 491.77L204.74 493.22M166.29 474.16L168.27 471.81M166.47 471.58L149.82 483.36M161.01 467.54L151.11 474.55M155.56 463.50L152.40 465.73M166.29 474.16L156.96 486.33M159.89 490.22L155.13 488.23M182.11 495.66L167.47 489.55M204.34 501.10L179.81 490.86M226.57 506.54L192.14 492.18M214.37 497.62L204.48 493.49M234.27 452.26L240.00 462.85M187.72 444.97L188.37 445.09M240.01 462.85L260.04 497.74M241.91 466.58L258.57 495.59M248.97 479.29L257.10 493.45M249.62 482.93L247.40 478.80M250.50 484.15L244.56 473.12M251.37 485.37L241.72 467.44M252.25 486.58L238.88 461.77M253.12 487.80L236.04 456.09M241.91 466.58L253.99 489.02M248.97 479.29L254.87 490.24M235.99 503.99L260.04 497.74M242.67 499.73L258.57 495.59M249.34 495.46L257.10 493.45M246.15 486.21L249.62 482.93M241.22 492.91L250.50 484.15M236.30 499.61L251.37 485.37M231.37 506.31L252.25 486.58M235.99 503.99L253.12 487.80M242.67 499.73L253.99 489.02M249.34 495.46L254.87 490.24M247.40 478.80L241.08 479.47M244.56 473.12L227.68 474.91M216.97 470.06L241.72 467.44M225.80 463.15L238.88 461.77M234.63 456.24L236.04 456.09M217.26 474.31L215.52 472.04M228.51 502.51L212.40 481.51M214.37 497.62L209.27 490.97M241.08 479.47L246.15 486.21M227.68 474.91L241.22 492.91M217.26 474.31L236.30 499.61M228.51 502.51L231.37 506.31M186.57 470.71L209.51 465.58M186.57 470.71L184.86 471.15M215.52 472.04L191.94 478.02M212.40 481.51L199.02 484.90M209.27 490.97L206.11 491.77M209.51 465.58L209.93 457.69M216.90 469.32L217.72 453.54M225.16 456.23L225.52 449.39M216.97 470.06L216.90 469.32M225.80 463.15L225.16 456.23M234.63 456.24L234.27 452.26M169.24 468.92L168.27 471.81M186.71 444.90L187.72 444.97M170.33 439.71L175.77 440.78M186.09 443.72L186.72 443.84M186.09 443.72L186.71 444.90M167.78 467.38L166.47 471.58M161.01 467.54L164.34 456.95M155.56 463.50L156.62 460.11M169.24 468.92L167.78 467.38M163.31 453.08L165.44 443.53M159.14 456.53L160.40 450.85M154.96 459.98L155.36 458.17M169.55 453.58L163.31 453.08M164.34 456.95L159.14 456.53M156.62 460.11L154.96 459.98M169.91 443.13L170.33 439.71M169.55 453.58L169.91 443.13" fill="none" stroke="#1a1a1a" stroke-opacity="0.75" stroke-width="0.4" stroke-dasharray="2.6 1.3"/>
<path d="M42.30 520.40L158.80 318.62L275.30 520.40Z" fill="none" stroke="#000" stroke-width="0.85" stroke-linejoin="miter"/><path d="M158.80 318.62l-2.20 -3.81M275.30 520.40l4.40 0M42.30 520.40l-2.20 3.81M144.24 343.84l-1.10 -1.91M260.74 495.18l2.20 0M71.42 520.40l-1.10 1.91M129.68 369.06l-2.20 -3.81M246.18 469.95l4.40 0M100.55 520.40l-2.20 3.81M115.11 394.29l-1.10 -1.91M231.61 444.73l2.20 0M129.68 520.40l-1.10 1.91M100.55 419.51l-2.20 -3.81M217.05 419.51l4.40 0M158.80 520.40l-2.20 3.81M85.99 444.73l-1.10 -1.91M202.49 394.29l2.20 0M187.93 520.40l-1.10 1.91M71.42 469.95l-2.20 -3.81M187.93 369.06l4.40 0M217.05 520.40l-2.20 3.81M56.86 495.18l-1.10 -1.91M173.36 343.84l2.20 0M246.18 520.40l-1.10 1.91M42.30 520.40l-2.20 -3.81M158.80 318.62l4.40 0M275.30 520.40l-2.20 3.81" fill="none" stroke="#000" stroke-width="0.72"/>
<text x="154.80" y="310.42" font-family="Liberation Serif, serif" font-size="10.8" text-anchor="end" >0.00</text>
<text x="283.00" y="523.30" font-family="Liberation Serif, serif" font-size="10.8" text-anchor="start" >0.00</text>
<text x="38.90" y="535.50" font-family="Liberation Serif, serif" font-size="10.8" text-anchor="middle">0.00</text>
<text x="125.68" y="360.86" font-family="Liberation Serif, serif" font-size="10.8" text-anchor="end" >0.25</text>
<text x="253.88" y="472.85" font-family="Liberation Serif, serif" font-size="10.8" text-anchor="start" >0.25</text>
<text x="97.15" y="535.50" font-family="Liberation Serif, serif" font-size="10.8" text-anchor="middle">0.25</text>
<text x="96.55" y="411.31" font-family="Liberation Serif, serif" font-size="10.8" text-anchor="end" >0.50</text>
<text x="224.75" y="422.41" font-family="Liberation Serif, serif" font-size="10.8" text-anchor="start" >0.50</text>
<text x="155.40" y="535.50" font-family="Liberation Serif, serif" font-size="10.8" text-anchor="middle">0.50</text>
<text x="67.42" y="461.75" font-family="Liberation Serif, serif" font-size="10.8" text-anchor="end" >0.75</text>
<text x="195.62" y="371.96" font-family="Liberation Serif, serif" font-size="10.8" text-anchor="start" >0.75</text>
<text x="213.65" y="535.50" font-family="Liberation Serif, serif" font-size="10.8" text-anchor="middle">0.75</text>
<text x="38.30" y="512.20" font-family="Liberation Serif, serif" font-size="10.8" text-anchor="end" >1.00</text>
<text x="166.50" y="321.52" font-family="Liberation Serif, serif" font-size="10.8" text-anchor="start" >1.00</text>
<text x="271.90" y="535.50" font-family="Liberation Serif, serif" font-size="10.8" text-anchor="middle">1.00</text>
<text x="58.30" y="401.90" font-family="Liberation Serif, serif" font-size="13.5" font-weight="bold" text-anchor="middle" transform="rotate(-60 58.30 397.50)">K<tspan dy="2.6" font-size="8.5">2</tspan><tspan dy="-2.6" font-size="0.1"> </tspan>O</text>
<text x="255.80" y="399.80" font-family="Liberation Serif, serif" font-size="13.5" font-weight="bold" text-anchor="middle" transform="rotate(60 255.80 395.40)">CaO+Na<tspan dy="2.6" font-size="8.5">2</tspan><tspan dy="-2.6" font-size="0.1"> </tspan>O</text>
<text x="159.10" y="552.60" font-family="Liberation Serif, serif" font-size="13.5" font-weight="bold" text-anchor="middle">Al<tspan dy="2.6" font-size="8.5">2</tspan><tspan dy="-2.6" font-size="0.1"> </tspan>O<tspan dy="2.6" font-size="8.5">3</tspan><tspan dy="-2.6" font-size="0.1"> </tspan></text>
<rect x="282.90" y="302.80" width="16.50" height="4.20" fill="#cbcbcb"/>
<rect x="282.90" y="306.80" width="16.50" height="193.40" fill="url(#cbv)"/>
<rect x="282.90" y="500.20" width="16.50" height="4.10" fill="#000"/>
<text x="308.30" y="310.50" font-family="Liberation Serif, serif" font-size="10.8">3520</text>
<text x="308.30" y="334.68" font-family="Liberation Serif, serif" font-size="10.8">3096</text>
<text x="308.30" y="358.85" font-family="Liberation Serif, serif" font-size="10.8">2673</text>
<text x="308.30" y="383.03" font-family="Liberation Serif, serif" font-size="10.8">2249</text>
<text x="308.30" y="407.20" font-family="Liberation Serif, serif" font-size="10.8">1825</text>
<text x="308.30" y="431.38" font-family="Liberation Serif, serif" font-size="10.8">1401</text>
<text x="308.30" y="455.55" font-family="Liberation Serif, serif" font-size="10.8">977.5</text>
<text x="308.30" y="479.73" font-family="Liberation Serif, serif" font-size="10.8">553.8</text>
<text x="308.30" y="503.90" font-family="Liberation Serif, serif" font-size="10.8">130.0</text>
<path d="M299.40 306.80h3.8M299.40 330.98h3.8M299.40 355.15h3.8M299.40 379.33h3.8M299.40 403.50h3.8M299.40 427.68h3.8M299.40 451.85h3.8M299.40 476.03h3.8M299.40 500.20h3.8" stroke="#000" stroke-width="0.8" fill="none"/>
<text x="291.35" y="294.70" font-family="Liberation Serif, serif" font-size="13" text-anchor="middle">Th</text>
</g>
<g>
<path d="M407.20 513.40L523.20 312.48L639.20 513.40Z" fill="none" stroke="#000" stroke-width="1.15" stroke-linejoin="miter"/><path d="M523.20 312.48l-2.30 -3.98M639.20 513.40l4.60 0M407.20 513.40l-2.30 3.98M517.40 322.53l-1.30 -2.25M633.40 503.35l2.60 0M418.80 513.40l-1.30 2.25M511.60 332.57l-2.30 -3.98M627.60 493.31l4.60 0M430.40 513.40l-2.30 3.98M505.80 342.62l-1.30 -2.25M621.80 483.26l2.60 0M442.00 513.40l-1.30 2.25M500.00 352.67l-2.30 -3.98M616.00 473.22l4.60 0M453.60 513.40l-2.30 3.98M494.20 362.71l-1.30 -2.25M610.20 463.17l2.60 0M465.20 513.40l-1.30 2.25M488.40 372.76l-2.30 -3.98M604.40 453.12l4.60 0M476.80 513.40l-2.30 3.98M482.60 382.80l-1.30 -2.25M598.60 443.08l2.60 0M488.40 513.40l-1.30 2.25M476.80 392.85l-2.30 -3.98M592.80 433.03l4.60 0M500.00 513.40l-2.30 3.98M471.00 402.90l-1.30 -2.25M587.00 422.99l2.60 0M511.60 513.40l-1.30 2.25M465.20 412.94l-2.30 -3.98M581.20 412.94l4.60 0M523.20 513.40l-2.30 3.98M459.40 422.99l-1.30 -2.25M575.40 402.90l2.60 0M534.80 513.40l-1.30 2.25M453.60 433.03l-2.30 -3.98M569.60 392.85l4.60 0M546.40 513.40l-2.30 3.98M447.80 443.08l-1.30 -2.25M563.80 382.80l2.60 0M558.00 513.40l-1.30 2.25M442.00 453.12l-2.30 -3.98M558.00 372.76l4.60 0M569.60 513.40l-2.30 3.98M436.20 463.17l-1.30 -2.25M552.20 362.71l2.60 0M581.20 513.40l-1.30 2.25M430.40 473.22l-2.30 -3.98M546.40 352.67l4.60 0M592.80 513.40l-2.30 3.98M424.60 483.26l-1.30 -2.25M540.60 342.62l2.60 0M604.40 513.40l-1.30 2.25M418.80 493.31l-2.30 -3.98M534.80 332.57l4.60 0M616.00 513.40l-2.30 3.98M413.00 503.35l-1.30 -2.25M529.00 322.53l2.60 0M627.60 513.40l-1.30 2.25M407.20 513.40l-2.30 -3.98M523.20 312.48l4.60 0M639.20 513.40l-2.30 3.98" fill="none" stroke="#000" stroke-width="0.98"/>
<text x="519.60" y="303.68" font-family="Liberation Serif, serif" font-size="7.6" text-anchor="end">0</text>
<text x="647.70" y="516.00" font-family="Liberation Serif, serif" font-size="7.6" text-anchor="start">0</text>
<text x="403.70" y="526.90" font-family="Liberation Serif, serif" font-size="7.6" text-anchor="middle">0</text>
<text x="508.00" y="323.77" font-family="Liberation Serif, serif" font-size="7.6" text-anchor="end">10</text>
<text x="636.10" y="495.91" font-family="Liberation Serif, serif" font-size="7.6" text-anchor="start">10</text>
<text x="426.90" y="526.90" font-family="Liberation Serif, serif" font-size="7.6" text-anchor="middle">10</text>
<text x="496.40" y="343.87" font-family="Liberation Serif, serif" font-size="7.6" text-anchor="end">20</text>
<text x="624.50" y="475.82" font-family="Liberation Serif, serif" font-size="7.6" text-anchor="start">20</text>
<text x="450.10" y="526.90" font-family="Liberation Serif, serif" font-size="7.6" text-anchor="middle">20</text>
<text x="484.80" y="363.96" font-family="Liberation Serif, serif" font-size="7.6" text-anchor="end">30</text>
<text x="612.90" y="455.72" font-family="Liberation Serif, serif" font-size="7.6" text-anchor="start">30</text>
<text x="473.30" y="526.90" font-family="Liberation Serif, serif" font-size="7.6" text-anchor="middle">30</text>
<text x="473.20" y="384.05" font-family="Liberation Serif, serif" font-size="7.6" text-anchor="end">40</text>
<text x="601.30" y="435.63" font-family="Liberation Serif, serif" font-size="7.6" text-anchor="start">40</text>
<text x="496.50" y="526.90" font-family="Liberation Serif, serif" font-size="7.6" text-anchor="middle">40</text>
<text x="461.60" y="404.14" font-family="Liberation Serif, serif" font-size="7.6" text-anchor="end">50</text>
<text x="589.70" y="415.54" font-family="Liberation Serif, serif" font-size="7.6" text-anchor="start">50</text>
<text x="519.70" y="526.90" font-family="Liberation Serif, serif" font-size="7.6" text-anchor="middle">50</text>
<text x="450.00" y="424.23" font-family="Liberation Serif, serif" font-size="7.6" text-anchor="end">60</text>
<text x="578.10" y="395.45" font-family="Liberation Serif, serif" font-size="7.6" text-anchor="start">60</text>
<text x="542.90" y="526.90" font-family="Liberation Serif, serif" font-size="7.6" text-anchor="middle">60</text>
<text x="438.40" y="444.32" font-family="Liberation Serif, serif" font-size="7.6" text-anchor="end">70</text>
<text x="566.50" y="375.36" font-family="Liberation Serif, serif" font-size="7.6" text-anchor="start">70</text>
<text x="566.10" y="526.90" font-family="Liberation Serif, serif" font-size="7.6" text-anchor="middle">70</text>
<text x="426.80" y="464.42" font-family="Liberation Serif, serif" font-size="7.6" text-anchor="end">80</text>
<text x="554.90" y="355.27" font-family="Liberation Serif, serif" font-size="7.6" text-anchor="start">80</text>
<text x="589.30" y="526.90" font-family="Liberation Serif, serif" font-size="7.6" text-anchor="middle">80</text>
<text x="415.20" y="484.51" font-family="Liberation Serif, serif" font-size="7.6" text-anchor="end">90</text>
<text x="543.30" y="335.17" font-family="Liberation Serif, serif" font-size="7.6" text-anchor="start">90</text>
<text x="612.50" y="526.90" font-family="Liberation Serif, serif" font-size="7.6" text-anchor="middle">90</text>
<text x="403.60" y="504.60" font-family="Liberation Serif, serif" font-size="7.6" text-anchor="end">100</text>
<text x="531.70" y="315.08" font-family="Liberation Serif, serif" font-size="7.6" text-anchor="start">100</text>
<text x="635.70" y="526.90" font-family="Liberation Serif, serif" font-size="7.6" text-anchor="middle">100</text>
<text x="533.80" y="323.00" font-family="Liberation Serif, serif" font-size="7.5" font-weight="bold" text-anchor="start">Kaolinite, Gibbsite, Chlorite</text>
<text x="577.90" y="375.40" font-family="Liberation Serif, serif" font-size="7.5" font-weight="bold" text-anchor="start">Illite</text>
<text x="600.60" y="416.20" font-family="Liberation Serif, serif" font-size="7.5" font-weight="bold" text-anchor="start">K-Feldspar</text>
<text x="488.00" y="372.80" font-family="Liberation Serif, serif" font-size="7.5" font-weight="bold" text-anchor="end">Smectite</text>
<text x="461.80" y="413.70" font-family="Liberation Serif, serif" font-size="7.5" font-weight="bold" text-anchor="end">Plagioclase</text>
<text x="425.90" y="473.00" font-family="Liberation Serif, serif" font-size="7.5" font-weight="bold" text-anchor="end">Hornblende</text>
<text x="424.70" y="387.10" font-family="Liberation Serif, serif" font-size="15.2" text-anchor="middle" transform="rotate(-60 424.70 382.10)">K<tspan dy="2.8" font-size="10.0">2</tspan><tspan dy="-2.8" font-size="0.1"> </tspan>O</text>
<text x="620.50" y="372.80" font-family="Liberation Serif, serif" font-size="14.6" font-weight="bold" text-anchor="middle" transform="rotate(60 620.50 368.00)">CaO+Na<tspan dy="2.8" font-size="9.6">2</tspan><tspan dy="-2.8" font-size="0.1"> </tspan>O</text>
<text x="518.20" y="553.80" font-family="Liberation Serif, serif" font-size="15.3" font-weight="bold" text-anchor="middle">Al<tspan dy="3.0" font-size="10.4">2</tspan><tspan dy="-3.0" font-size="0.1"> </tspan>O<tspan dy="3.0" font-size="10.4">3</tspan><tspan dy="-3.0" font-size="0.1"> </tspan></text>
<circle cx="525.50" cy="375.60" r="2.35" fill="#000"/>
<text x="529.20" y="371.40" font-family="Liberation Serif, serif" font-size="5.4" text-anchor="middle" fill="#000">Kota Mamuju</text>
<circle cx="533.10" cy="432.20" r="2.35" fill="#000"/>
<text x="533.60" y="428.00" font-family="Liberation Serif, serif" font-size="5.4" text-anchor="middle" fill="#000">Ulandoppo</text>
<circle cx="535.50" cy="433.50" r="2.35" fill="#000"/>
<text x="538.30" y="435.10" font-family="Liberation Serif, serif" font-size="5.4" text-anchor="start" fill="#000">Ammun</text>
<circle cx="551.60" cy="437.30" r="2.35" fill="#000"/>
<text x="554.40" y="438.90" font-family="Liberation Serif, serif" font-size="5.4" text-anchor="start" fill="#000">Kasarang</text>
<circle cx="531.20" cy="443.50" r="2.35" fill="#000"/>
<text x="525.90" y="445.10" font-family="Liberation Serif, serif" font-size="5.4" text-anchor="end" fill="#000">Makada</text>
<circle cx="534.70" cy="447.80" r="2.35" fill="#000"/>
<text x="531.30" y="449.40" font-family="Liberation Serif, serif" font-size="5.4" text-anchor="end" fill="#000">Dayanginna</text>
<circle cx="555.30" cy="445.90" r="2.35" fill="#000"/>
<text x="556.30" y="445.80" font-family="Liberation Serif, serif" font-size="5.4" text-anchor="start" fill="#000">Ahu</text>
<circle cx="543.70" cy="449.30" r="2.35" fill="#000"/>
<text x="546.50" y="450.90" font-family="Liberation Serif, serif" font-size="5.4" text-anchor="start" fill="#000">Tampalang</text>
<circle cx="517.40" cy="454.90" r="2.35" fill="#000"/>
<text x="520.20" y="456.50" font-family="Liberation Serif, serif" font-size="5.4" text-anchor="start" fill="#000">Ampalas Tujuh</text>
<circle cx="568.10" cy="454.20" r="2.35" fill="#000"/>
<text x="570.90" y="455.80" font-family="Liberation Serif, serif" font-size="5.4" text-anchor="start" fill="#000">Salonapbanga</text>
<circle cx="531.30" cy="465.10" r="2.35" fill="#000"/>
<text x="527.90" y="466.70" font-family="Liberation Serif, serif" font-size="5.4" text-anchor="end" fill="#000">Takandeang</text>
<circle cx="548.70" cy="463.90" r="2.35" fill="#000"/>
<text x="551.50" y="465.50" font-family="Liberation Serif, serif" font-size="5.4" text-anchor="start" fill="#000">Bullung</text>
<circle cx="580.10" cy="464.10" r="2.35" fill="#000"/>
<text x="582.90" y="465.70" font-family="Liberation Serif, serif" font-size="5.4" text-anchor="start" fill="#000">Pasabu</text>
<circle cx="527.70" cy="478.50" r="2.35" fill="#000"/>
<text x="530.50" y="480.10" font-family="Liberation Serif, serif" font-size="5.4" text-anchor="start" fill="#000">Ocobatu</text>
<circle cx="513.50" cy="480.80" r="2.35" fill="#000"/>
<text x="510.10" y="482.40" font-family="Liberation Serif, serif" font-size="5.4" text-anchor="end" fill="#000">Hulu Ampalas</text>
<circle cx="572.50" cy="487.00" r="2.35" fill="#000"/>
<text x="566.60" y="488.60" font-family="Liberation Serif, serif" font-size="5.4" text-anchor="end" fill="#000">Rantedoda1</text>
<circle cx="601.40" cy="448.50" r="2.35" fill="#000"/>
<text x="599.20" y="447.30" font-family="Liberation Serif, serif" font-size="5.4" text-anchor="end" fill="#000">Takir Ahu</text>
<circle cx="613.10" cy="475.40" r="2.35" fill="#000"/>
<text x="609.70" y="477.00" font-family="Liberation Serif, serif" font-size="5.4" text-anchor="end" fill="#000">Botteng</text>
<circle cx="619.70" cy="484.50" r="2.35" fill="#000"/>
<text x="615.90" y="486.10" font-family="Liberation Serif, serif" font-size="5.4" text-anchor="end" fill="#000">Taloba</text>
<circle cx="625.10" cy="492.50" r="2.35" fill="#000"/>
<text x="620.90" y="494.10" font-family="Liberation Serif, serif" font-size="5.4" text-anchor="end" fill="#000">Tobanga</text>
<circle cx="594.10" cy="500.80" r="2.35" fill="#000"/>
<text x="588.90" y="502.40" font-family="Liberation Serif, serif" font-size="5.4" text-anchor="end" fill="#000">Rantedoda2</text>
</g>
</svg></body></html>
